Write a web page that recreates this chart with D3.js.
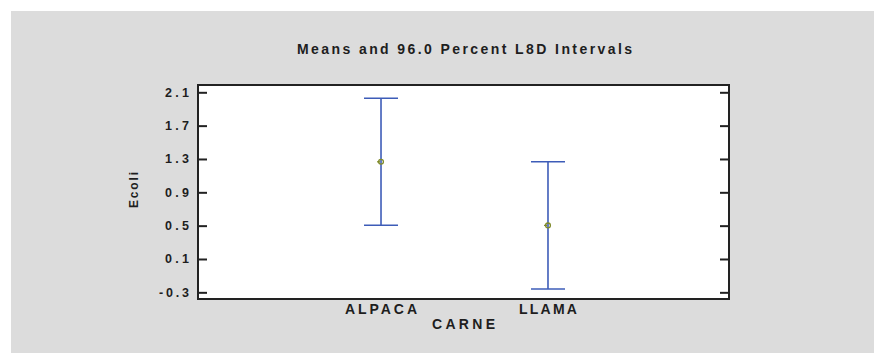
<!DOCTYPE html>
<html>
<head>
<meta charset="utf-8">
<script src="https://cdn.jsdelivr.net/npm/d3@7"></script>
<style>
  html, body { margin: 0; padding: 0; background: #ffffff; }
  svg { display: block; }
  text { font-family: "Liberation Sans", Arial, sans-serif; font-weight: bold; fill: #1e1e1e; }
</style>
</head>
<body>
<script>
// LSD interval data per meat type
const categories = ["ALPACA", "LLAMA"];
const means = [1.266, 0.503];
const lsdHalfWidth = [0.762, 0.763];
const yTicks = [-0.3, 0.1, 0.5, 0.9, 1.3, 1.7, 2.1];
const yTickLabels = ["-0.3", "0.1", "0.5", "0.9", "1.3", "1.7", "2.1"];
const titleText = "Means and 96.0 Percent L8D Intervals";
const xTitle = "CARNE";
const yTitle = "Ecoli";

const W = 874, H = 353;
const box = { left: 198, right: 729, top: 85, bottom: 299 };

const svg = d3.select("body").append("svg").attr("width", W).attr("height", H);

// grey panel
svg.append("rect").attr("x", 11).attr("y", 11).attr("width", W - 11).attr("height", H - 11)
  .attr("fill", "#dcdcdc");

// plot area
svg.append("rect")
  .attr("x", box.left).attr("y", box.top)
  .attr("width", box.right - box.left).attr("height", box.bottom - box.top)
  .attr("fill", "#ffffff");

const y = d3.scaleLinear().domain([-0.380, 2.1876]).range([box.bottom, box.top]);
const x = d3.scaleLinear().domain([-0.096, 3.084]).range([box.left, box.right]);

// left axis: inward ticks with labels
const left = svg.append("g").attr("transform", `translate(${box.left},0)`)
  .call(d3.axisLeft(y).tickValues(yTicks).tickSize(-9).tickPadding(9)
    .tickFormat((d, i) => yTickLabels[i]));
left.select(".domain").remove();
left.selectAll(".tick line").attr("stroke", "#222").attr("stroke-width", 2);
left.selectAll(".tick text")
  .attr("font-size", 12.5).attr("fill", "#1e1e1e")
  .attr("font-family", "Liberation Sans, Arial, sans-serif").attr("font-weight", "bold")
  .attr("textLength", (d, i) => yTickLabels[i].length === 4 ? 30 : 24)
  .attr("lengthAdjust", "spacing");

// right axis: inward ticks, no labels
const right = svg.append("g").attr("transform", `translate(${box.right},0)`)
  .call(d3.axisRight(y).tickValues(yTicks).tickSize(-9).tickFormat(""));
right.select(".domain").remove();
right.selectAll(".tick line").attr("stroke", "#222").attr("stroke-width", 2);

// frame
svg.append("rect")
  .attr("x", box.left).attr("y", box.top)
  .attr("width", box.right - box.left).attr("height", box.bottom - box.top)
  .attr("fill", "none").attr("stroke", "#222").attr("stroke-width", 2);

// LSD intervals
const capHalf = 17;
const bars = svg.append("g").selectAll("g").data(categories).join("g");
bars.append("line")
  .attr("x1", (d, i) => x(i + 1)).attr("x2", (d, i) => x(i + 1))
  .attr("y1", (d, i) => y(means[i] + lsdHalfWidth[i]))
  .attr("y2", (d, i) => y(means[i] - lsdHalfWidth[i]))
  .attr("stroke", "#3d5cb8").attr("stroke-width", 1.6);
[1, -1].forEach(s => {
  bars.append("line")
    .attr("x1", (d, i) => x(i + 1) - capHalf).attr("x2", (d, i) => x(i + 1) + capHalf)
    .attr("y1", (d, i) => y(means[i] + s * lsdHalfWidth[i]))
    .attr("y2", (d, i) => y(means[i] + s * lsdHalfWidth[i]))
    .attr("stroke", "#3d5cb8").attr("stroke-width", 1.6);
});
// mean markers
bars.append("circle")
  .attr("cx", (d, i) => x(i + 1)).attr("cy", (d, i) => y(means[i]))
  .attr("r", 2.4).attr("fill", "none").attr("stroke", "#7f8a2a").attr("stroke-width", 1.3);
bars.append("line")
  .attr("x1", (d, i) => x(i + 1) - 4).attr("x2", (d, i) => x(i + 1) - 1)
  .attr("y1", (d, i) => y(means[i])).attr("y2", (d, i) => y(means[i]))
  .attr("stroke", "#7f8a2a").attr("stroke-width", 1.3);

// category labels
const catWidths = [72, 58];
svg.append("g").selectAll("text").data(categories).join("text")
  .attr("x", (d, i) => x(i + 1)).attr("y", 313.5)
  .attr("text-anchor", "middle").attr("font-size", 14)
  .attr("textLength", (d, i) => catWidths[i]).attr("lengthAdjust", "spacing")
  .text(d => d);

// axis titles
svg.append("text").attr("x", (box.left + box.right) / 2).attr("y", 329)
  .attr("text-anchor", "middle").attr("font-size", 14)
  .attr("textLength", 63).attr("lengthAdjust", "spacing").text(xTitle);

svg.append("text")
  .attr("transform", `translate(137.5,${(box.top + box.bottom) / 2 - 2}) rotate(-90)`)
  .attr("text-anchor", "middle").attr("font-size", 12)
  .attr("textLength", 36).attr("lengthAdjust", "spacing").text(yTitle);

// chart title
svg.append("text").attr("x", 464.5).attr("y", 54)
  .attr("text-anchor", "middle").attr("font-size", 14)
  .attr("textLength", 335).attr("lengthAdjust", "spacing").text(titleText);
</script>
</body>
</html>
